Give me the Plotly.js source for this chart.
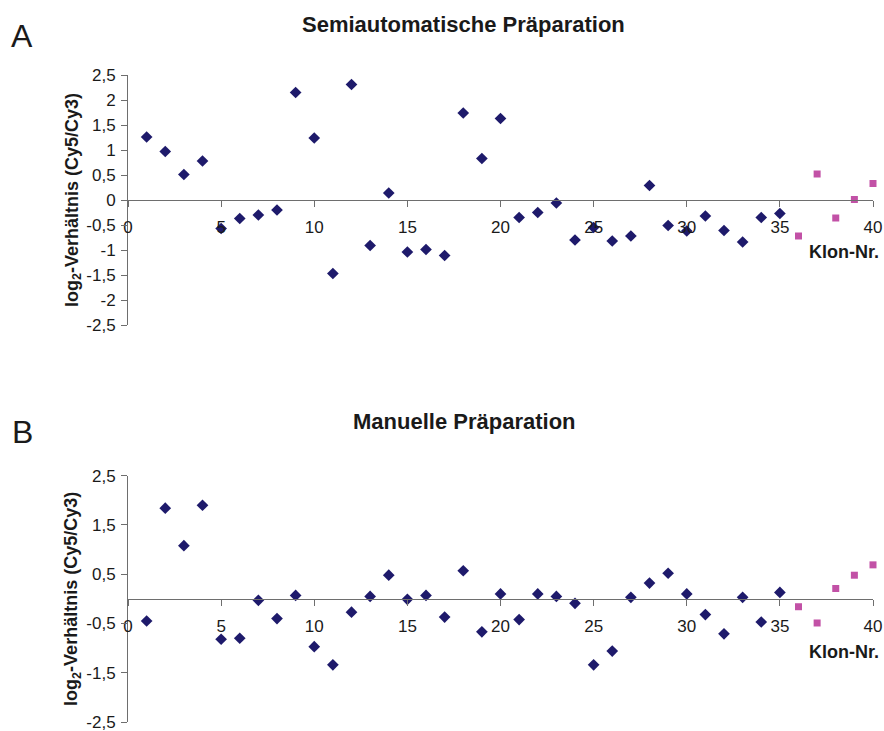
<!DOCTYPE html>
<html>
<head>
<meta charset="utf-8">
<script src="https://cdn.plot.ly/plotly-3.0.1.min.js"></script>
<style>html,body{margin:0;padding:0;background:#fff;}#chart{width:884px;height:731px;}</style>
</head>
<body>
<div id="chart"></div>
<script>
// Clone numbers
const klonA = [1,2,3,4,5,6,7,8,9,10,11,12,13,14,15,16,17,18,19,20,21,22,23,24,25,26,27,28,29,30,31,32,33,34,35];
const klonKontrolle = [36,37,38,39,40];

// Panel A: semiautomatic preparation (log2 Cy5/Cy3)
const semiWerte = [1.26,0.97,0.51,0.78,-0.57,-0.37,-0.30,-0.20,2.15,1.24,-1.47,2.31,-0.91,0.14,-1.04,-0.99,-1.11,1.74,0.83,1.63,-0.35,-0.25,-0.06,-0.80,-0.55,-0.82,-0.72,0.29,-0.51,-0.62,-0.32,-0.61,-0.84,-0.35,-0.27];
const semiKontrolle = [-0.72,0.52,-0.36,0.01,0.33];

// Panel B: manual preparation
const manWerte = [-0.45,1.84,1.08,1.90,-0.82,-0.80,-0.03,-0.40,0.07,-0.97,-1.34,-0.27,0.05,0.48,-0.01,0.07,-0.37,0.57,-0.67,0.10,-0.42,0.10,0.05,-0.09,-1.34,-1.06,0.03,0.32,0.52,0.10,-0.32,-0.71,0.03,-0.47,0.13];
const manKontrolle = [-0.16,-0.49,0.21,0.48,0.69];

// Tick labels
const xTicks = [0,5,10,15,20,25,30,35,40];
const yTicksA = [2.5,2,1.5,1,0.5,0,-0.5,-1,-1.5,-2,-2.5];
const yTextA = ["2,5","2","1,5","1","0,5","0","-0,5","-1","-1,5","-2","-2,5"];
const yTicksB = [2.5,1.5,0.5,-0.5,-1.5,-2.5];
const yTextB = ["2,5","1,5","0,5","-0,5","-1,5","-2,5"];

const navy = '#1e1a6b';
const pink = '#c251a6';
const axisCol = '#6e6e6e';
const font = 'Liberation Sans, Arial, sans-serif';
const txtCol = '#1a1a1a';

const traces = [
  {x: klonA, y: semiWerte, type:'scatter', mode:'markers', xaxis:'x', yaxis:'y', cliponaxis:false,
   marker:{symbol:'diamond', size:9, color:navy}},
  {x: klonKontrolle, y: semiKontrolle, type:'scatter', mode:'markers', xaxis:'x', yaxis:'y', cliponaxis:false,
   marker:{symbol:'square', size:7, color:pink}},
  {x: klonA, y: manWerte, type:'scatter', mode:'markers', xaxis:'x2', yaxis:'y2', cliponaxis:false,
   marker:{symbol:'diamond', size:9, color:navy}},
  {x: klonKontrolle, y: manKontrolle, type:'scatter', mode:'markers', xaxis:'x2', yaxis:'y2', cliponaxis:false,
   marker:{symbol:'square', size:7, color:pink}}
];

// plot area: paper from y=75px to y=722px (height 647)
const H = 647, BOT = 722;
const py = p => (BOT - p) / H;
const domA = [py(325), 1];
const domB = [0, py(475.7)];

function xAx(pos){
  return {range:[0,40], domain:[0,1], anchor:'free', position:pos,
    tickvals:xTicks, ticktext:xTicks.map(String), ticks:'outside', ticklen:6, tickcolor:axisCol,
    showline:true, linecolor:axisCol, linewidth:1, showgrid:false, zeroline:false,
    ticklabelstandoff:6, ticklabeloverflow:'allow', tickfont:{family:font, size:17, color:txtCol}};
}
function yAx(dom, vals, txt, xref){
  return {range:[-2.5,2.5], domain:dom, anchor:xref, tickvals:vals, ticktext:txt,
    ticks:'outside', ticklen:6, tickcolor:axisCol, showline:true, linecolor:axisCol, linewidth:1,
    showgrid:false, zeroline:false, ticklabeloverflow:'allow', ticklabelstandoff:2,
    tickfont:{family:font, size:17, color:txtCol},
    title:{text:'<b>log<sub>2</sub>-Verhältnis (Cy5/Cy3)</b>', font:{family:font, size:18, color:txtCol}, standoff:3}};
}

const layout = {
  width:884, height:731,
  margin:{l:128, r:11, t:75, b:731-BOT},
  paper_bgcolor:'#fff', plot_bgcolor:'rgba(0,0,0,0)',
  showlegend:false,
  xaxis: xAx((domA[0]+domA[1])/2),
  yaxis: yAx(domA, yTicksA, yTextA, 'x'),
  xaxis2: xAx((domB[0]+domB[1])/2),
  yaxis2: yAx(domB, yTicksB, yTextB, 'x2'),
  annotations:[
    {text:'<b>Semiautomatische Präparation</b>', xref:'paper', yref:'paper', x:(463-128)/745, y:py(24), xanchor:'center', yanchor:'middle', showarrow:false, font:{family:font, size:22, color:txtCol}},
    {text:'<b>Manuelle Präparation</b>', xref:'paper', yref:'paper', x:(464-128)/745, y:py(421), xanchor:'center', yanchor:'middle', showarrow:false, font:{family:font, size:22, color:txtCol}},
    {text:'A', xref:'paper', yref:'paper', x:(22-128)/745, y:py(36), xanchor:'center', yanchor:'middle', showarrow:false, font:{family:font, size:32, color:txtCol}},
    {text:'B', xref:'paper', yref:'paper', x:(22-128)/745, y:py(432), xanchor:'center', yanchor:'middle', showarrow:false, font:{family:font, size:32, color:txtCol}},
    {text:'<b>Klon-Nr.</b>', xref:'paper', yref:'paper', x:(881-128)/745, y:py(252), xanchor:'right', yanchor:'middle', showarrow:false, font:{family:font, size:18, color:txtCol}},
    {text:'<b>Klon-Nr.</b>', xref:'paper', yref:'paper', x:(881-128)/745, y:py(652), xanchor:'right', yanchor:'middle', showarrow:false, font:{family:font, size:18, color:txtCol}}
  ]
};

Plotly.newPlot('chart', traces, layout, {staticPlot:true, displayModeBar:false});
</script>
</body>
</html>
